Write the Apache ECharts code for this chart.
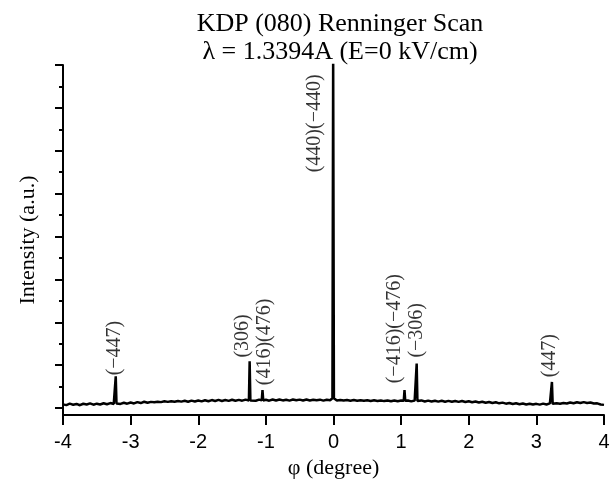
<!DOCTYPE html>
<html>
<head>
<meta charset="utf-8">
<script src="https://cdn.jsdelivr.net/npm/echarts@6/dist/echarts.min.js"></script>
<style>
  html, body { margin: 0; background: #fff; }
  #chart { width: 615px; height: 489px; }
</style>
</head>
<body>
<div id="chart"></div>
<script>
// baseline, one sample every 0.05 degree from -4 to 4
const phiStart = -4;
const phiStep = 0.05;
const baseline = [
  88, 70, 104, 80, 98, 68, 102, 84, 110, 80, 104, 86, 114, 90, 118, 96, 120, 98, 126, 104,
  130, 110, 140, 118, 148, 124, 146, 136, 150, 140, 160, 146, 162, 150, 168, 152, 172, 150, 176, 156,
  178, 158, 184, 162, 188, 166, 192, 168, 188, 170, 196, 172, 192, 174, 198, 176, 194, 172, 198, 176,
  194, 174, 200, 178, 202, 180, 196, 176, 200, 182, 198, 178, 200, 180, 196, 184, 198, 176, 196, 186,
  200, 178, 192, 176, 190, 174, 188, 172, 186, 170, 184, 168, 182, 166, 180, 164, 178, 160, 180, 162,
  176, 160, 178, 158, 176, 160, 180, 156, 176, 154, 174, 152, 172, 150, 170, 148, 168, 146, 166, 142,
  160, 138, 156, 132, 150, 126, 144, 120, 136, 112, 128, 104, 120, 98, 112, 92, 108, 86, 104, 84,
  100, 82, 106, 86, 110, 90, 114, 104, 120, 108, 132, 114, 138, 118, 140, 120, 132, 108, 112, 86,
  76
];

// reflections
const peakPhi = [-3.22, -1.24, -1.05, -0.005, 1.05, 1.23, 3.23];
const peakHeight = [740, 1090, 420, 8300, 420, 1040, 610];
const peakFoot = [110, 180, 180, 230, 170, 165, 100];

// peak annotations (text start position, data units)
const labelText = ['(\u2212447)', '(306)', '(416)(476)', '(440)(\u2212440)', '(\u2212416)(\u2212476)', '(\u2212306)', '(447)'];
const labelPhi = [-3.232, -1.341, -1.016, -0.278, 0.904, 1.229, 3.194];
const labelLevel = [764, 1179, 533, 5498, 579, 1179, 718];

const yMajorTicks = [0, 1000, 2000, 3000, 4000, 5000, 6000, 7000, 8000];
const yMinorTicks = [500, 1500, 2500, 3500, 4500, 5500, 6500, 7500];

const peakHalfWidth = 0.011;

const points = [];
baseline.forEach((v, i) => {
  const phi = +(phiStart + i * phiStep).toFixed(3);
  if (peakPhi.some(p => Math.abs(p - phi) < 0.02)) return;
  points.push([phi, v]);
});
peakPhi.forEach((p, i) => {
  points.push([p - peakHalfWidth, peakFoot[i]]);
  points.push([p, peakHeight[i]]);
  points.push([p + peakHalfWidth, peakFoot[i]]);
});
points.sort((a, b) => a[0] - b[0]);

const serif = 'Liberation Serif';
const chart = echarts.init(document.getElementById('chart'));
chart.setOption({
  animation: false,
  title: {
    text: 'KDP (080) Renninger Scan\n\u03bb = 1.3394A (E=0 kV/cm)',
    left: 335,
    textAlign: 'center',
    top: 5,
    textStyle: { fontFamily: serif, fontSize: 26, fontWeight: 'normal', color: '#000', lineHeight: 28 }
  },
  grid: { left: 63, right: 11, top: 65, bottom: 74 },
  xAxis: {
    type: 'value',
    min: -4,
    max: 4,
    interval: 1,
    name: '\u03c6 (degree)',
    nameLocation: 'middle',
    nameGap: 42,
    nameTextStyle: { fontFamily: serif, fontSize: 22, color: '#000' },
    axisLine: { onZero: false, lineStyle: { color: '#000', width: 2 } },
    axisTick: { length: 10, lineStyle: { color: '#000', width: 2 } },
    axisLabel: { fontFamily: 'Liberation Sans', fontSize: 20, color: '#000', margin: 17 },
    splitLine: { show: false }
  },
  yAxis: [
    {
      type: 'value',
      min: -160,
      max: 8000,
      name: 'Intensity (a.u.)',
      nameLocation: 'middle',
      nameGap: 24,
      nameTextStyle: { fontFamily: serif, fontSize: 22, color: '#000' },
      axisLine: { show: true, onZero: false, lineStyle: { color: '#000', width: 2 } },
      axisTick: { show: true, length: 8, customValues: yMajorTicks, lineStyle: { color: '#000', width: 2 } },
      axisLabel: { show: false },
      splitLine: { show: false }
    },
    {
      type: 'value',
      min: -160,
      max: 8000,
      position: 'left',
      axisLine: { show: false, onZero: false },
      axisTick: { show: true, length: 4, customValues: yMinorTicks, lineStyle: { color: '#000', width: 2 } },
      axisLabel: { show: false },
      splitLine: { show: false }
    }
  ],
  series: [
    {
      type: 'line',
      data: points,
      showSymbol: false,
      clip: true,
      lineStyle: { color: '#000', width: 2.5 }
    },
    {
      type: 'scatter',
      symbolSize: 0,
      silent: true,
      data: labelPhi.map((p, i) => ({ value: [p, labelLevel[i]], name: labelText[i] })),
      label: {
        show: true,
        formatter: '{b}',
        position: 'inside',
        rotate: 90,
        align: 'left',
        verticalAlign: 'middle',
        fontFamily: serif,
        fontSize: 20,
        color: '#000'
      }
    }
  ]
});
</script>
</body>
</html>
